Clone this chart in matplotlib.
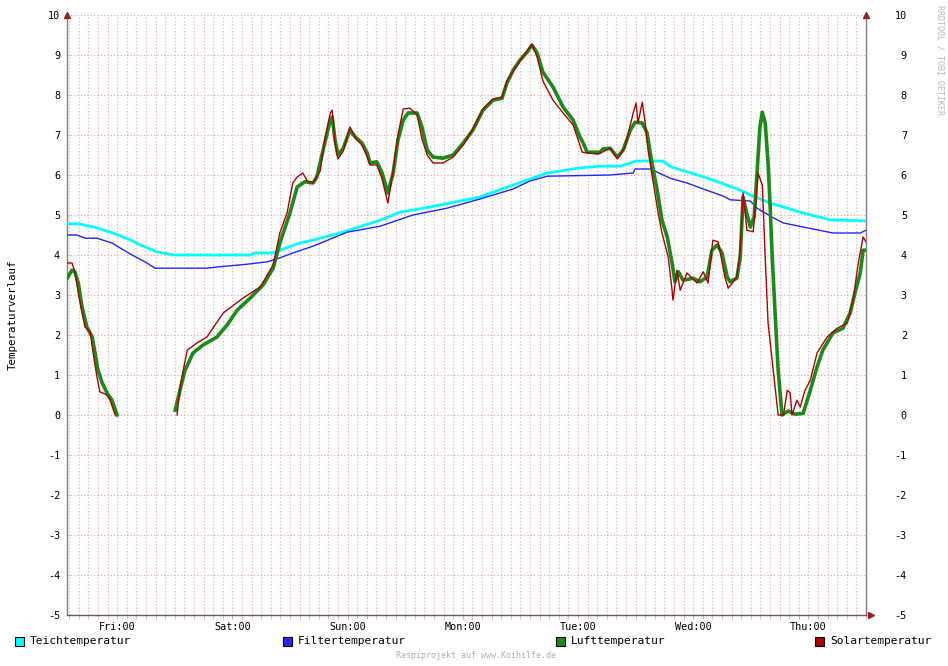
import numpy as np
import matplotlib
matplotlib.use("Agg")
import matplotlib.pyplot as plt
import matplotlib.transforms as mtrans
from matplotlib.patches import Rectangle

# ---- data (hours relative to Fri 00:00, temperatures in degC) ----
teich_t = [-10.4, -8.1, -4.2, -0.9, 2.7, 4.8, 8.3, 11.6, 27.7, 28.7, 32.5, 33.9, 38.1, 40.8,
           46.4, 54.8, 58.9, 65.2, 75.6, 82.5, 89.6, 96.5, 100.6, 104.8, 108.1, 113.7, 115.4,
           122.3, 129.2, 132.5, 136.0, 142.9, 148.5, 156.0]
teich_v = [4.78, 4.78, 4.68, 4.55, 4.38, 4.25, 4.08, 4.0, 4.0, 4.05, 4.05, 4.12, 4.3, 4.37,
           4.55, 4.87, 5.07, 5.2, 5.45, 5.75, 6.05, 6.18, 6.22, 6.22, 6.35, 6.35, 6.2,
           5.95, 5.65, 5.47, 5.3, 5.05, 4.88, 4.85]

filter_t = [-10.4, -8.4, -6.7, -4.2, -1.1, 1.0, 3.1, 5.8, 7.9, 18.7, 20.8, 27.1, 31.3, 33.9,
            36.6, 40.8, 47.9, 54.8, 61.6, 68.7, 75.6, 82.5, 86.0, 89.6, 102.7, 107.5, 107.9,
            111.4, 112.5, 115.2, 118.7, 122.1, 126.3, 127.7, 131.9, 133.3, 136.7, 138.8,
            142.9, 149.1, 154.8, 156.0]
filter_v = [4.5, 4.5, 4.42, 4.42, 4.3, 4.15, 4.0, 3.83, 3.67, 3.67, 3.7, 3.77, 3.83, 3.93,
            4.05, 4.22, 4.57, 4.72, 5.0, 5.17, 5.4, 5.65, 5.85, 5.97, 6.0, 6.05, 6.15,
            6.15, 6.07, 5.92, 5.8, 5.65, 5.47, 5.38, 5.35, 5.17, 4.93, 4.8,
            4.7, 4.55, 4.55, 4.62]

luft_t = [-10.4, -9.4, -8.8, -8.1, -7.3, -6.3, -5.2, -4.6, -4.0, -3.1, -2.1, -1.1, 0.0,
          0.5,
          12.1, 13.1, 14.15, 15.8, 17.9, 20.8, 22.9, 25.0, 27.7, 30.4, 32.5, 33.9, 36.0, 37.5,
          39.1, 40.8, 41.6, 42.9, 44.4, 44.8, 45.4, 46.0, 47.1, 48.5, 49.6, 51.0, 52.1, 52.7,
          54.1, 55.2, 56.4, 57.5, 58.5, 59.6, 60.6, 62.5, 63.5, 64.6, 65.8, 67.9, 70.0, 72.1,
          74.1, 76.2, 78.3, 80.2, 81.2, 82.5, 83.9, 85.4, 86.4, 87.5, 88.7, 90.8, 92.9, 95.0,
          96.4, 97.1, 97.9, 100.6, 101.2, 102.7, 104.2, 105.4, 106.9, 107.9, 109.4, 110.4,
          111.4, 112.5, 113.5, 114.6, 115.6, 116.2, 116.9, 117.9, 120.0, 121.4, 122.9, 123.9,
          125.0, 126.0, 127.1, 127.7, 129.1, 129.8, 130.4, 131.0, 131.9, 132.7, 133.3, 133.9,
          134.4, 135.0, 135.6, 136.0, 136.4, 137.1, 137.7, 138.5, 139.8, 141.2, 142.9, 144.4,
          145.8, 147.0, 149.1, 151.2, 152.7, 153.7, 154.8, 155.4, 156.0]
luft_v = [3.42, 3.62, 3.58, 3.3, 2.7, 2.2, 1.95, 1.55, 1.12, 0.8, 0.55, 0.38, 0.0,
          np.nan,
          0.12, 0.62, 1.12, 1.55, 1.75, 1.95, 2.25, 2.62, 2.92, 3.25, 3.67, 4.3, 5.05, 5.7,
          5.83, 5.8, 5.95, 6.62, 7.37, 7.45, 6.87, 6.5, 6.67, 7.12, 6.95, 6.8, 6.55, 6.3,
          6.33, 6.05, 5.55, 6.05, 6.87, 7.37, 7.55, 7.55, 7.2, 6.62, 6.45, 6.42, 6.5, 6.8,
          7.12, 7.62, 7.87, 7.92, 8.3, 8.62, 8.87, 9.07, 9.25, 9.05, 8.57, 8.2, 7.7, 7.37,
          6.95, 6.8, 6.57, 6.57, 6.65, 6.67, 6.45, 6.62, 7.12, 7.32, 7.3, 7.05,
          6.3, 5.62, 4.87, 4.45, 3.8, 3.33, 3.58, 3.37, 3.42, 3.33, 3.45, 4.12,
          4.25, 4.05, 3.45, 3.33, 3.42, 3.95, 5.45, 5.12, 4.7, 4.95, 6.05, 7.2,
          7.57, 7.3, 6.3, 5.3, 4.12, 2.45, 1.12, 0.0, 0.1, 0.02, 0.04, 0.62,
          1.2, 1.62, 2.05, 2.17, 2.55, 3.05, 3.55, 4.12, 4.12]

solar_t = [-10.4, -9.4, -8.8, -8.1, -7.3, -6.7, -5.6, -5.0, -4.2, -3.6, -2.1, -1.5, -0.4,
           0.5,
           12.5, 13.1, 14.6, 16.6, 18.7, 22.1, 26.2, 29.8, 32.5, 33.9, 35.4, 36.6, 37.5, 38.7,
           39.6, 40.8, 42.3, 43.3, 44.4, 44.8, 45.4, 46.0, 47.1, 48.5, 49.8, 51.0, 52.1, 52.7,
           54.1, 55.2, 56.4, 57.5, 58.5, 59.6, 61.0, 62.5, 63.5, 64.6, 65.8, 67.9, 70.0, 72.1,
           74.1, 76.2, 78.3, 80.2, 81.2, 82.5, 83.9, 85.4, 86.4, 87.5, 88.7, 90.8, 92.9, 95.0,
           96.9, 100.2, 102.7, 104.2, 105.8, 107.5, 108.1, 108.5, 109.4, 110.0, 110.6, 111.6,
           112.7, 113.5, 114.8, 115.6, 115.8, 116.6, 117.3, 118.7, 120.8, 122.1, 123.1, 124.1,
           125.2, 126.6, 127.3, 129.1, 129.8, 130.4, 131.2, 132.5, 133.1, 133.5, 134.4, 135.0,
           135.6, 136.6, 137.7, 138.8, 139.6, 140.2, 140.6, 141.6, 142.3, 143.3, 144.4, 145.8,
           147.9, 150.0, 152.1, 153.3, 154.4, 155.4, 156.0]
solar_v = [3.8, 3.8, 3.58, 3.05, 2.55, 2.2, 2.08, 1.55, 0.95, 0.58, 0.5, 0.38, 0.0,
           np.nan,
           0.0, 0.7, 1.62, 1.8, 1.95, 2.55, 2.92, 3.2, 3.75, 4.55, 5.05, 5.8, 5.95, 6.05,
           5.85, 5.8, 6.1, 6.9, 7.55, 7.62, 6.8, 6.4, 6.6, 7.2, 6.9, 6.75, 6.45, 6.25,
           6.25, 5.9, 5.3, 6.1, 7.0, 7.65, 7.67, 7.5, 6.9, 6.5, 6.3, 6.3, 6.45, 6.75,
           7.15, 7.65, 7.9, 7.95, 8.35, 8.6, 8.85, 9.1, 9.27, 8.95, 8.35, 7.87, 7.55, 7.25,
           6.57, 6.52, 6.67, 6.4, 6.7, 7.55, 7.8, 7.3, 7.82, 7.3, 6.62, 5.87,
           5.05, 4.55, 3.95, 3.12, 2.87, 3.62, 3.12, 3.55, 3.3, 3.58, 3.3, 4.37,
           4.33, 3.45, 3.17, 3.45, 4.12, 5.55, 4.62, 4.58, 5.38, 6.05, 5.75, 3.95,
           2.3, 1.2, 0.0, 0.0, 0.62, 0.55, 0.0, 0.37, 0.2, 0.62, 0.87, 1.55,
           1.95, 2.17, 2.3, 2.87, 3.8, 4.45, 4.33]

day_labels = ["Fri:00", "Sat:00", "Sun:00", "Mon:00", "Tue:00", "Wed:00", "Thu:00"]
legend_names = ["Teichtemperatur", "Filtertemperatur", "Lufttemperatur", "Solartemperatur"]
y_ticks = list(range(-5, 11))

# ---- styling ----
W, H = 948, 666
fig = plt.figure(figsize=(W / 100, H / 100), dpi=100)
fig.patch.set_facecolor("white")
L, R, T, B = 67, 866, 15, 615
ax = fig.add_axes([L / W, 1 - B / H, (R - L) / W, (B - T) / H])
ax.set_facecolor("white")

xmin, xmax = -10.44, 156.0
ax.set_xlim(xmin, xmax)
ax.set_ylim(-5, 10)

grid_col = (0.90, 0.66, 0.66)
for g in np.arange(-10, 157, 2):
    ax.axvline(g, color=grid_col, lw=0.8, ls=(0, (1, 2)), zorder=0)
for v in y_ticks:
    ax.axhline(v, color=grid_col, lw=0.8, ls=(0, (1, 2)), zorder=0)

mono = "DejaVu Sans Mono"
cols = ["#00FFFF", "#2424FF", "#1A8A1A", "#B00000"]
ax.plot(teich_t, teich_v, color=cols[0], lw=2.0, zorder=3)
ax.plot(filter_t, filter_v, color=cols[1], lw=1.0, zorder=3)
ax.plot(luft_t, luft_v, color=cols[2], lw=2.6, zorder=4)
ax.plot(solar_t, solar_v, color=cols[3], lw=1.0, zorder=5)

ax.spines["top"].set_visible(False)
ax.spines["left"].set_color("#808080")
ax.spines["right"].set_color("#808080")
ax.spines["bottom"].set_color("#606060")
for s in ["left", "right", "bottom"]:
    ax.spines[s].set_linewidth(1.0)

ax.set_yticks(y_ticks)
ax.set_yticklabels([str(v) for v in y_ticks], family=mono, fontsize=7.3)
ax.tick_params(axis="y", length=0, pad=5, labelright=True, labelleft=True)
offset = mtrans.ScaledTranslation(34 / 100, 0, fig.dpi_scale_trans)
for tick in ax.yaxis.get_major_ticks():
    tick.label2.set_horizontalalignment("right")
    tick.label2.set_fontfamily(mono)
    tick.label2.set_fontsize(7.3)
    tick.label2.set_transform(tick.label2.get_transform() + offset)

ax.set_xticks([24 * i for i in range(len(day_labels))])
ax.set_xticklabels(day_labels, family=mono, fontsize=7.3)
ax.set_xticks(np.arange(-10, 157, 2), minor=True)
ax.tick_params(axis="x", which="major", length=3, color=grid_col, pad=2)
ax.tick_params(axis="x", which="minor", length=3, color=grid_col)

# arrows
dark = "#9A1F1F"
ax.plot([0], [1.0], marker="^", ms=5, color=dark, transform=ax.transAxes, clip_on=False, zorder=6)
ax.plot([1], [1.0], marker="^", ms=5, color=dark, transform=ax.transAxes, clip_on=False, zorder=6)
ax.plot([1.006], [0.0], marker=">", ms=5, color=dark, transform=ax.transAxes, clip_on=False, zorder=6)

# labels
fig.text(13 / W, 1 - 315 / H, "Temperaturverlauf", rotation=90, ha="center", va="center",
         family=mono, fontsize=7.8)
fig.text(940 / W, 1 - 60 / H, "RRDTOOL / TOBI OETIKER", rotation=270, ha="center", va="center",
         family=mono, fontsize=6.0, color="#B8B8B8")
fig.text(476 / W, 1 - 655 / H, "Raspiprojekt auf www.Koihilfe.de", ha="center", va="center",
         family=mono, fontsize=6.0, color="#B0B0B0")

# legend
leg_x = [15, 282.5, 556, 815]
for xp, name, c in zip(leg_x, legend_names, cols):
    fig.patches.append(Rectangle((xp / W, 1 - 646 / H), 9 / W, 9 / H, transform=fig.transFigure,
                                 facecolor=c, edgecolor="black", lw=0.8))
    fig.text((xp + 15) / W, 1 - 641.5 / H, name, ha="left", va="center", family=mono, fontsize=8.1)

fig.savefig("out.png", dpi=100)
